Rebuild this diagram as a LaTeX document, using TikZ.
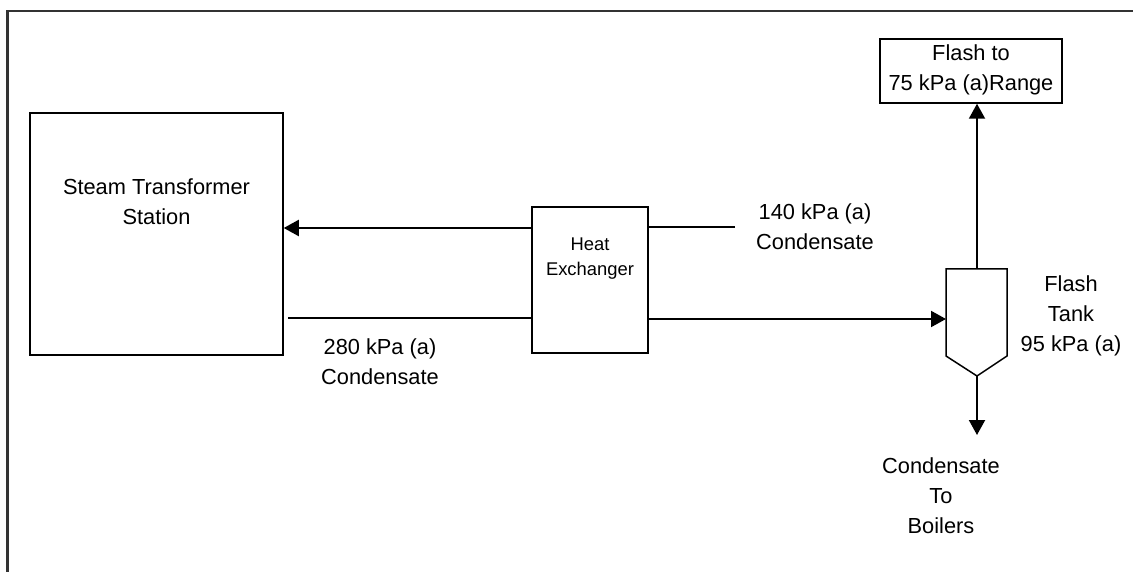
\documentclass[tikz,border=0pt]{standalone}
\usepackage{fontspec}
\setmainfont{Liberation Sans}
\usetikzlibrary{arrows.meta}
\tikzset{
  box/.style={draw, line width=1.5pt, inner sep=0pt},
  pipe/.style={line width=2pt},
  flow/.style={pipe, -{Triangle[length=15pt,width=16pt]}},
  lbl/.style={align=center, inner sep=0pt, font=\fontsize{21.8}{30}\selectfont},
  small/.style={align=center, inner sep=0pt, font=\fontsize{18.4}{25}\selectfont}
}
\begin{document}
\begin{tikzpicture}[x=1pt,y=-1pt]
\useasboundingbox (0,0) rectangle (1133,572);
% outer frame (partial)
\draw[line width=2.2pt, black!80] (1133,11) -- (7.5,11) -- (7.5,572);

% Steam transformer station
\node[box, minimum width=253pt, minimum height=242pt] (sts) at (156.5,234) {};
\node[lbl] (ststxt) at (156.5,202) {Steam Transformer\\Station};

% Heat exchanger
\node[box, minimum width=116pt, minimum height=146pt] (hx) at (590,280) {};
\node[small] (hxtxt) at (590,259) {Heat\\Exchanger};

% Flash to box
\node[box, minimum width=182pt, minimum height=64pt] (flash) at (971,71) {};
\node[lbl] (flashtxt) at (971,70) {Flash to\\75 kPa (a)Range};

% Flash tank
\coordinate (tl) at (946,269);
\coordinate (tr) at (1007,269);
\coordinate (br) at (1007,356);
\coordinate (bl) at (946,356);
\coordinate (tbot) at (977,376);
\coordinate (ttop) at (977,269);
\coordinate (tin) at (946,319);
\draw[line width=1.5pt, line join=miter] (tl) -- (tr) -- (br) -- (tbot) -- (bl) -- cycle;

% Connectors
\coordinate (c140) at (735,227);
\coordinate (c280) at (288,318);
\coordinate (boil) at (977,435);
\draw[pipe] (c140) -- (hx.east |- c140);
\draw[flow] (hx.west |- 0,228) -- (sts.east |- 0,228);
\draw[pipe] (hx.west |- c280) -- (c280);
\draw[flow] (hx.east |- tin) -- (tin);
\draw[flow] (ttop) -- (flash.south -| ttop);
\draw[flow] (tbot) -- (boil);

% Labels
\node[lbl] (l140) at (815,227) {140 kPa (a)\\Condensate};
\node[lbl] (l280) at (380,362) {280 kPa (a)\\Condensate};
\node[lbl] (ltank) at (1071,316) {Flash\\Tank\\95 kPa (a)};
\node[lbl] (lboil) at (941,496) {Condensate\\To\\Boilers};
\end{tikzpicture}
\end{document}
